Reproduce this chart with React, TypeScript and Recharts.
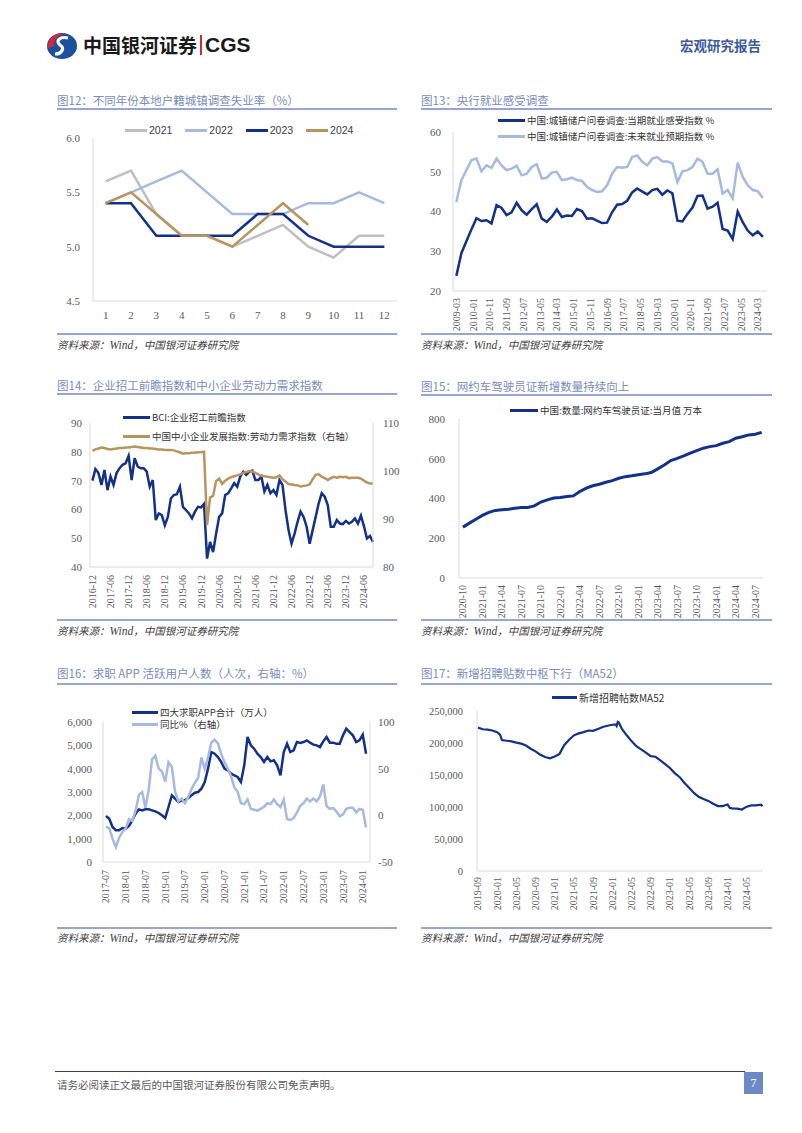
import React from 'react'
import { LineChart, Line, XAxis, YAxis } from 'recharts'

const SERIF = '"Liberation Serif", "Times New Roman", serif'
const CJK = '"Noto Sans CJK SC", "Noto Sans", sans-serif'
const NAVY = '#14318a'
const LIGHT = '#a6b9e1'
const GREY = '#bfbfbf'
const TAN = '#b8945f'
const AXIS = '#d9d9d9'
const TICK = '#595959'

// 图12 本地户籍城镇调查失业率
const months12 = [1, 2, 3, 4, 5, 6, 7, 8, 9, 10, 11, 12]
const rate2021 = [5.6, 5.7, 5.3, 5.1, 5.1, 5.0, 5.1, 5.2, 5.0, 4.9, 5.1, 5.1]
const rate2022 = [5.4, 5.5, 5.6, 5.7, 5.5, 5.3, 5.3, 5.3, 5.4, 5.4, 5.5, 5.4]
const rate2023 = [5.4, 5.4, 5.1, 5.1, 5.1, 5.1, 5.3, 5.3, 5.1, 5.0, 5.0, 5.0]
const rate2024 = [5.4, 5.5, 5.3, 5.1, 5.1, 5.0, 5.2, 5.4, 5.2]

// 图13 央行就业感受调查（季度）
const start13 = '2009-03'
const cur13 = [23.8, 29.5, 32.5, 35.5, 38.3, 37.6, 37.8, 37.0, 41.6, 40.9, 39.1, 39.8, 42.2, 40.3, 39.2, 40.6,
  41.8, 38.2, 37.4, 38.7, 40.5, 38.6, 39.0, 38.9, 40.6, 40.1, 38.2, 38.3, 37.7, 37.1, 37.2, 39.8, 41.7, 41.9,
  42.7, 44.8, 45.8, 45.0, 44.3, 45.4, 45.7, 44.2, 45.3, 44.6, 37.7, 37.5, 39.4, 41.0, 43.9, 44.0, 40.7, 41.2,
  42.2, 35.6, 35.2, 33.1, 40.0, 37.3, 35.2, 34.0, 35.0, 33.6]
const fut13 = [42.4, 47.9, 50.4, 52.9, 53.3, 50.1, 51.6, 51.0, 53.3, 51.6, 50.4, 50.8, 51.5, 49.1, 49.5, 51.2,
  51.9, 48.3, 48.5, 49.8, 50.0, 47.9, 48.1, 48.5, 47.9, 47.7, 46.2, 45.4, 44.9, 45.1, 46.6, 49.5, 51.2, 51.0,
  51.2, 53.7, 54.1, 52.5, 51.6, 53.3, 53.7, 52.6, 52.6, 52.1, 47.4, 50.1, 50.4, 51.2, 53.3, 52.5, 49.5, 49.5,
  50.6, 44.5, 45.4, 43.3, 52.3, 48.7, 46.6, 45.4, 45.1, 43.4]
const ticks13 = ['2009-03', '2010-01', '2010-11', '2011-09', '2012-07', '2013-05', '2014-03', '2015-01', '2015-11',
  '2016-09', '2017-07', '2018-05', '2019-03', '2020-01', '2020-11', '2021-09', '2022-07', '2023-05', '2024-03']

// 图14 BCI 企业招工前瞻指数 / 中小企业劳动力需求指数（月度）
const start14 = '2016-12'
const bci14 = [70, 74, 72.6, 68.5, 73.7, 66.7, 71.4, 68.5, 72.6, 74.3, 75.5, 76, 78.6, 70.2, 77.8, 74.9, 74.3,
  74.3, 73.1, 67.9, 70.2, 56.3, 58.6, 58.0, 54.5, 57.4, 63.8, 65, 65.3, 67.9, 60.9, 59.8, 58.6, 56.9, 59.2, 60.9,
  60.7, 61.9, 42.9, 48.7, 45.2, 51.6, 57.4, 58.6, 65, 65.6, 67.3, 69.1, 67.9, 71.4, 73.1, 72, 73.1, 73.5, 70.2,
  70.2, 71.4, 66.2, 68.5, 65.6, 66.7, 65, 70.2, 68.5, 59.8, 52.8, 48.1, 51.6, 55.7, 59.2, 57.4, 54, 48.1, 52.8,
  57.4, 62.1, 65.6, 64.4, 61.5, 54, 54, 56.3, 55.1, 54.9, 56, 55.1, 55.7, 56.9, 55.1, 57.8, 54.2, 49.9, 50.8, 48.7]
const sme14 = [104.2, 104.5, 104.7, 104.9, 104.8, 104.6, 104.5, 104.6, 104.7, 104.8, 104.8, 104.9,
  104.9, 105.0, 105.1, 105.0, 104.9, 104.8, 104.8, 104.7, 104.7, 104.6, 104.5, 104.5,
  104.4, 104.4, 104.4, 104.3, 104.1, 103.9, 103.6, 103.7, 103.7, 103.8, 103.8, 103.9,
  103.9, 104.0, 88.7, 94.5, 94.8, 97.9, 98.4, 97.3, 98.0, 98.4, 98.7, 98.9,
  99.1, 99.3, 99.6, 99.8, 100.0, 99.9, 99.6, 99.3, 99.0, 98.9, 98.8, 98.7,
  98.6, 98.7, 99.1, 98.3, 97.8, 97.3, 97.2, 97.1, 97.0, 96.8, 96.9, 97.0,
  97.2, 98.3, 99.2, 99.3, 98.8, 98.5, 98.1, 98.5, 98.8, 98.6, 98.8, 98.7,
  98.8, 98.5, 98.6, 98.6, 98.6, 98.4, 98.0, 97.6, 97.4, 97.4]
const ticks14 = ['2016-12', '2017-06', '2017-12', '2018-06', '2018-12', '2019-06', '2019-12', '2020-06', '2020-12',
  '2021-06', '2021-12', '2022-06', '2022-12', '2023-06', '2023-12', '2024-06']

// 图15 网约车驾驶员证（万本）
const start15 = '2020-10'
const cert15 = [256, 276, 296, 315, 330, 340, 343, 346, 351, 355, 355, 363, 382, 393, 402, 405, 410, 413, 435,
  452, 464, 472, 482, 490, 502, 510, 514, 519, 524, 531, 549, 569, 591, 602, 614, 628, 641, 653, 661, 666, 678,
  686, 703, 711, 720, 723, 733]
const ticks15 = ['2020-10', '2021-01', '2021-04', '2021-07', '2021-10', '2022-01', '2022-04', '2022-07', '2022-10',
  '2023-01', '2023-04', '2023-07', '2023-10', '2024-01', '2024-04', '2024-07']

// 图16 求职APP活跃用户
const start16 = '2017-07'
const app16 = [1971, 1857, 1500, 1357, 1357, 1457, 1429, 1543, 1786, 2071, 2257, 2214, 2257, 2257, 2214, 2171,
  2100, 2000, 1886, 2357, 2857, 2714, 2571, 2643, 2643, 2743, 2857, 2971, 3000, 3143, 3429, 4000, 4714, 4643,
  4500, 4286, 4000, 3929, 3786, 3714, 3643, 3429, 4143, 5357, 5000, 4857, 4643, 4500, 4286, 4500, 4314, 4357,
  4143, 3714, 4714, 5071, 4714, 4786, 5143, 5100, 5143, 5214, 5114, 5029, 5000, 4929, 5171, 5357, 5114, 5114,
  5071, 5071, 5429, 5714, 5571, 5429, 5143, 5214, 5457, 4643]
const yoy16 = [-12, -14, -25, -34, -24, -18, -14, -4, -6, 5, 22, 25, 8, 28, 60, 64, 50, 47, 36, 57, 52, 25, 15,
  18, 13, 20, 28, 35, 40, 62, 50, 62, 78, 81, 77, 66, 57, 50, 42, 30, 25, 13, 12, 17, 7, 6, 5, 7, 9, 13, 12, 17,
  12, 9, 17, -4, -5, -3, 3, 10, 13, 18, 15, 18, 15, 20, 33, 10, 7, 8, 4, -1, 1, 7, 8, 8, 3, 7, 6, -13]
const ticks16 = ['2017-07', '2018-01', '2018-07', '2019-01', '2019-07', '2020-01', '2020-07', '2021-01', '2021-07',
  '2022-01', '2022-07', '2023-01', '2023-07', '2024-01']

// 图17 新增招聘帖数 MA52
const start17 = '2019-09'
const dates17 = ['2019-09', '2019-10', '2019-11', '2019-12', '2020-01', '2020-01-19', '2020-02', '2020-03', '2020-04',
  '2020-05', '2020-06', '2020-07', '2020-08', '2020-09', '2020-10', '2020-11', '2020-12', '2021-01', '2021-02',
  '2021-03', '2021-04', '2021-05', '2021-06', '2021-07', '2021-08', '2021-09', '2021-10', '2021-11', '2021-12',
  '2022-01', '2022-01-22', '2022-01-28', '2022-02-05', '2022-02-12', '2022-03', '2022-04', '2022-05', '2022-06',
  '2022-07', '2022-08', '2022-09', '2022-10', '2022-11', '2022-12', '2023-01', '2023-02', '2023-03', '2023-04',
  '2023-05', '2023-06', '2023-07', '2023-08', '2023-09', '2023-10', '2023-11', '2023-12', '2024-01', '2024-01-16',
  '2024-02', '2024-03', '2024-04', '2024-05', '2024-06', '2024-07', '2024-08', '2024-08-10']
const posts17 = [224000, 221500, 221000, 219500, 217000, 213000, 204500, 203500, 202500, 200500, 199000, 196000,
  191000, 187000, 181500, 178000, 176000, 179000, 183000, 197000, 205000, 212000, 215000, 217000, 219500, 219000,
  222000, 225000, 227000, 228500, 229000, 226500, 233000, 232000, 222000, 212000, 203000, 195000, 190000, 185000,
  179500, 178500, 173000, 167000, 161000, 153000, 147000, 138000, 130000, 122000, 116000, 112500, 109500, 105000,
  101500, 101500, 104000, 98500, 98000, 97500, 96000, 100500, 102500, 102500, 103500, 101000]
const ticks17 = ['2019-09', '2020-01', '2020-05', '2020-09', '2021-01', '2021-05', '2021-09', '2022-01', '2022-05',
  '2022-09', '2023-01', '2023-05', '2023-09', '2024-01', '2024-05']

// month index helpers
const ym = (s: string) => {
  const [y, m, d] = s.split('-').map(Number)
  return y * 12 + (m - 1) + (d ? (d - 1) / 30 : 0)
}
const off = (s: string, start: string) => ym(s) - ym(start)
const seqX = (n: number, step = 1) => Array.from({ length: n }, (_, i) => i * step)

const data12 = months12.map((m, i) => ({ m, a: rate2021[i], b: rate2022[i], c: rate2023[i], d: rate2024[i] }))
const data13 = seqX(cur13.length, 3).map((x, i) => ({ x, cur: cur13[i], fut: fut13[i] }))
const data14 = seqX(bci14.length).map((x, i) => ({ x, bci: bci14[i], sme: sme14[i] }))
const data15 = seqX(cert15.length).map((x, i) => ({ x, v: cert15[i] }))
const data16 = seqX(app16.length).map((x, i) => ({ x, app: app16[i], yoy: yoy16[i] }))
const data17 = dates17.map((d, i) => ({ x: off(d, start17), v: posts17[i] }))

const tickProps = { fill: TICK, fontSize: 11, fontFamily: SERIF }

function RotTick(props: any) {
  const { x, y, payload, labels, start } = props
  const lab = labels.find((l: string) => Math.abs(off(l, start) - payload.value) < 0.01) ?? ''
  return (
    <text x={x} y={y} dy="0.35em" textAnchor="end" fontSize={10} fill={TICK} fontFamily={SERIF}
      transform={`rotate(-90, ${x}, ${y})`}>{lab}</text>
  )
}

function Title({ x, y, w, lineY, text }: any) {
  return (
    <>
      <div style={{ position: 'absolute', left: x, top: y - 8, height: 16, lineHeight: '16px', fontSize: 11.5,
        color: '#7a8cbc', fontFamily: CJK, whiteSpace: 'nowrap' }}>{text}</div>
      <div style={{ position: 'absolute', left: x, top: lineY, width: w, height: 1.5, background: '#97a6d0' }} />
    </>
  )
}

function Source({ x, y, w, lineY }: any) {
  return (
    <>
      <div style={{ position: 'absolute', left: x, top: lineY, width: w, height: 1.5, background: '#97a6d0' }} />
      <div style={{ position: 'absolute', left: x, top: y - 8, height: 16, lineHeight: '16px', fontSize: 10.5,
        color: '#404040', fontFamily: CJK, fontStyle: 'italic', whiteSpace: 'nowrap' }}>
        资料来源：<span style={{ fontFamily: SERIF, fontSize: 11.5 }}>Wind</span>，中国银河证券研究院
      </div>
    </>
  )
}

function Key({ x, y, color, text, w = 27, size = 9.5, font = CJK }: any) {
  return (
    <div style={{ position: 'absolute', left: x, top: y - 8, height: 16, display: 'flex', alignItems: 'center',
      whiteSpace: 'nowrap' }}>
      <div style={{ width: w, height: 3, background: color, marginRight: 2 }} />
      <span style={{ fontSize: size, color: '#333', fontFamily: font }}>{text}</span>
    </div>
  )
}

function Box({ left, top, children }: any) {
  return <div style={{ position: 'absolute', left, top }}>{children}</div>
}

function Logo() {
  return (
    <svg width={32} height={28} viewBox="0 0 32 28" style={{ position: 'absolute', left: 46, top: 32 }}>
      <ellipse cx={16} cy={14} rx={15} ry={13} fill="#1d4f9f" />
      <path d="M2 16 C1 6 10 0 20 1 C12 3 7 8 8 14 Z" fill="#d7282f" />
      <path d="M22 6 C14 4 9 9 14 13 C19 16 16 22 9 22" stroke="#fff" strokeWidth={3.2} fill="none" />
    </svg>
  )
}

export default function App() {
  const yNum = (v: number) => v.toLocaleString('en-US')
  return (
    <div style={{ position: 'absolute', left: 0, top: 0, width: 802, height: 1133, background: '#fff',
      overflow: 'hidden' }}>
      {/* header */}
      <Logo />
      <div style={{ position: 'absolute', left: 83, top: 33, height: 24, lineHeight: '24px', fontSize: 19,
        fontWeight: 700, fontFamily: CJK, color: '#1a1a1a', whiteSpace: 'nowrap' }}>中国银河证券</div>
      <div style={{ position: 'absolute', left: 200, top: 35, width: 1.5, height: 20, background: '#d7282f' }} />
      <div style={{ position: 'absolute', left: 205, top: 33, height: 24, lineHeight: '24px', fontSize: 21,
        fontWeight: 700, fontFamily: '"Liberation Sans", Arial, sans-serif', color: '#1a1a1a' }}>CGS</div>
      <div style={{ position: 'absolute', left: 680, top: 36, height: 18, lineHeight: '18px', fontSize: 13.5,
        fontWeight: 700, fontFamily: CJK, color: '#3c5a9c', whiteSpace: 'nowrap' }}>宏观研究报告</div>

      {/* 图12 */}
      <Title x={57} y={100} lineY={108} w={340} text="图12：不同年份本地户籍城镇调查失业率（%）" />
      <div style={{ position: 'absolute', left: 125, top: 122, display: 'flex', gap: 13 }}>
        {[['2021', GREY], ['2022', LIGHT], ['2023', NAVY], ['2024', TAN]].map(([t, c]) => (
          <div key={t} style={{ display: 'flex', alignItems: 'center', height: 16 }}>
            <div style={{ width: 22, height: 3, background: c, marginRight: 2 }} />
            <span style={{ fontSize: 10.5, color: '#404040', fontFamily: '"Liberation Sans", Arial, sans-serif' }}>{t}</span>
          </div>
        ))}
      </div>
      <Box left={50} top={130}>
        <LineChart width={350} height={200} data={data12} margin={{ top: 8, right: 3, left: 0, bottom: 0 }}>
          <XAxis dataKey="m" type="number" domain={[0.5, 12.5]} ticks={months12} interval={0} height={29}
            tickSize={0} tickMargin={10} tick={tickProps} stroke={AXIS} />
          <YAxis domain={[4.5, 6]} ticks={[4.5, 5, 5.5, 6]} width={43} tickSize={0} tickMargin={13}
            tick={tickProps} stroke={AXIS} tickFormatter={(v: number) => v.toFixed(1)} />
          <Line dataKey="a" stroke={GREY} strokeWidth={2.5} dot={false} isAnimationActive={false} />
          <Line dataKey="b" stroke={LIGHT} strokeWidth={2.5} dot={false} isAnimationActive={false} />
          <Line dataKey="c" stroke={NAVY} strokeWidth={2.5} dot={false} isAnimationActive={false} />
          <Line dataKey="d" stroke={TAN} strokeWidth={2.5} dot={false} isAnimationActive={false} />
        </LineChart>
      </Box>
      <Source x={57} y={345} lineY={333} w={340} />

      {/* 图13 */}
      <Title x={421} y={100} lineY={108} w={351} text="图13：央行就业感受调查" />
      <Box left={410} top={115}>
        <LineChart width={362} height={220} data={data13} margin={{ top: 17, right: 5, left: 0, bottom: 0 }}>
          <XAxis dataKey="x" type="number" domain={[-2, 185.5]} ticks={ticks13.map(l => off(l, start13))}
            interval={0} height={44} tickSize={0} tickMargin={7} stroke={AXIS}
            tick={<RotTick labels={ticks13} start={start13} />} />
          <YAxis domain={[20, 60]} ticks={[20, 30, 40, 50, 60]} width={43} tickSize={0} tickMargin={12}
            tick={tickProps} stroke={AXIS} />
          <Line dataKey="cur" stroke={NAVY} strokeWidth={2.5} dot={false} isAnimationActive={false} />
          <Line dataKey="fut" stroke={LIGHT} strokeWidth={2.5} dot={false} isAnimationActive={false} />
        </LineChart>
      </Box>
      <Key x={498} y={120} color={NAVY} text="中国:城镇储户问卷调查:当期就业感受指数 %" />
      <Key x={498} y={136} color={LIGHT} text="中国:城镇储户问卷调查:未来就业预期指数 %" />
      <Source x={421} y={345} lineY={333} w={351} />

      {/* 图14 */}
      <Title x={57} y={385} lineY={393} w={340} text="图14：企业招工前瞻指数和中小企业劳动力需求指数" />
      <Box left={50} top={410}>
        <LineChart width={350} height={202} data={data14} margin={{ top: 13, right: 0, left: 0, bottom: 0 }}>
          <XAxis dataKey="x" type="number" domain={[-0.8, 93]} ticks={ticks14.map(l => off(l, start14))}
            interval={0} height={45} tickSize={0} tickMargin={8} stroke={AXIS}
            tick={<RotTick labels={ticks14} start={start14} />} />
          <YAxis yAxisId="l" domain={[40, 90]} ticks={[40, 50, 60, 70, 80, 90]} width={40} tickSize={0}
            tickMargin={8} tick={tickProps} stroke={AXIS} />
          <YAxis yAxisId="r" orientation="right" domain={[80, 110]} ticks={[80, 90, 100, 110]} width={27}
            tickSize={0} tickMargin={10} tick={tickProps} stroke={AXIS} />
          <Line yAxisId="l" dataKey="bci" stroke={NAVY} strokeWidth={2.5} dot={false} isAnimationActive={false} />
          <Line yAxisId="r" dataKey="sme" stroke={TAN} strokeWidth={2.5} dot={false} isAnimationActive={false} />
        </LineChart>
      </Box>
      <Key x={123} y={417} color={NAVY} text="BCI:企业招工前瞻指数" />
      <Key x={123} y={436} color={TAN} text="中国中小企业发展指数:劳动力需求指数（右轴）" />
      <Source x={57} y={631} lineY={619} w={340} />

      {/* 图15 */}
      <Title x={421} y={386} lineY={394} w={351} text="图15：网约车驾驶员证新增数量持续向上" />
      <Box left={410} top={405}>
        <LineChart width={362} height={217} data={data15} margin={{ top: 14, right: 9, left: 0, bottom: 0 }}>
          <XAxis dataKey="x" type="number" domain={[-0.6, 46.2]} ticks={ticks15.map(l => off(l, start15))}
            interval={0} height={44} tickSize={0} tickMargin={7} stroke={AXIS}
            tick={<RotTick labels={ticks15} start={start15} />} />
          <YAxis domain={[0, 800]} ticks={[0, 200, 400, 600, 800]} width={49} tickSize={0} tickMargin={14}
            tick={tickProps} stroke={AXIS} />
          <Line dataKey="v" stroke={NAVY} strokeWidth={3} dot={false} isAnimationActive={false} />
        </LineChart>
      </Box>
      <Key x={510} y={410} color={NAVY} w={28} text="中国:数量:网约车驾驶员证:当月值 万本" />
      <Source x={421} y={631} lineY={619} w={351} />

      {/* 图16 */}
      <Title x={57} y={673} lineY={683} w={340} text="图16：求职 APP 活跃用户人数（人次，右轴：%）" />
      <Box left={50} top={705}>
        <LineChart width={350} height={200} data={data16} margin={{ top: 17, right: 0, left: 0, bottom: 0 }}>
          <XAxis dataKey="x" type="number" domain={[-0.9, 80.2]} ticks={ticks16.map(l => off(l, start16))}
            interval={0} height={43} tickSize={0} tickMargin={8} stroke={AXIS}
            tick={<RotTick labels={ticks16} start={start16} />} />
          <YAxis yAxisId="l" domain={[0, 6000]} ticks={[0, 1000, 2000, 3000, 4000, 5000, 6000]} width={53}
            tickSize={0} tickMargin={11} tick={tickProps} stroke={AXIS} tickFormatter={yNum} />
          <YAxis yAxisId="r" orientation="right" domain={[-50, 100]} ticks={[-50, 0, 50, 100]} width={30}
            tickSize={0} tickMargin={8} tick={tickProps} stroke={AXIS} />
          <Line yAxisId="l" dataKey="app" stroke={NAVY} strokeWidth={2.5} dot={false} isAnimationActive={false} />
          <Line yAxisId="r" dataKey="yoy" stroke={LIGHT} strokeWidth={2.5} dot={false} isAnimationActive={false} />
        </LineChart>
      </Box>
      <Key x={132} y={712} color={NAVY} w={26} text="四大求职APP合计（万人）" />
      <Key x={132} y={724} color={LIGHT} w={26} text="同比%（右轴）" />
      <Source x={57} y={938} lineY={927} w={340} />

      {/* 图17 */}
      <Title x={421} y={673} lineY={683} w={351} text="图17：新增招聘贴数中枢下行（MA52）" />
      <Box left={410} top={695}>
        <LineChart width={362} height={220} data={data17} margin={{ top: 16, right: 9, left: 0, bottom: 0 }}>
          <XAxis dataKey="x" type="number" domain={[-0.2, 59.4]} ticks={ticks17.map(l => off(l, start17))}
            interval={0} height={44} tickSize={0} tickMargin={6} stroke={AXIS}
            tick={<RotTick labels={ticks17} start={start17} />} />
          <YAxis domain={[0, 250000]} ticks={[0, 50000, 100000, 150000, 200000, 250000]} width={67} tickSize={0}
            tickMargin={14} tick={{ ...tickProps, fontSize: 10.5 }} stroke={AXIS} tickFormatter={yNum} />
          <Line dataKey="v" stroke={NAVY} strokeWidth={2.2} dot={false} isAnimationActive={false} />
        </LineChart>
      </Box>
      <Key x={552} y={697} color={NAVY} w={25} size={10} text="新增招聘帖数MA52" />
      <Source x={421} y={938} lineY={927} w={351} />

      {/* footer */}
      <div style={{ position: 'absolute', left: 55, top: 1071, width: 690, height: 1, background: '#404040' }} />
      <div style={{ position: 'absolute', left: 57, top: 1077, height: 16, lineHeight: '16px', fontSize: 10.5,
        color: '#595959', fontFamily: CJK, whiteSpace: 'nowrap' }}>请务必阅读正文最后的中国银河证券股份有限公司免责声明。</div>
      <div style={{ position: 'absolute', left: 744, top: 1072, width: 19, height: 22, background: '#6d89c5',
        color: '#fff', fontSize: 12, fontFamily: SERIF, display: 'flex', alignItems: 'center',
        justifyContent: 'center' }}>7</div>
    </div>
  )
}
